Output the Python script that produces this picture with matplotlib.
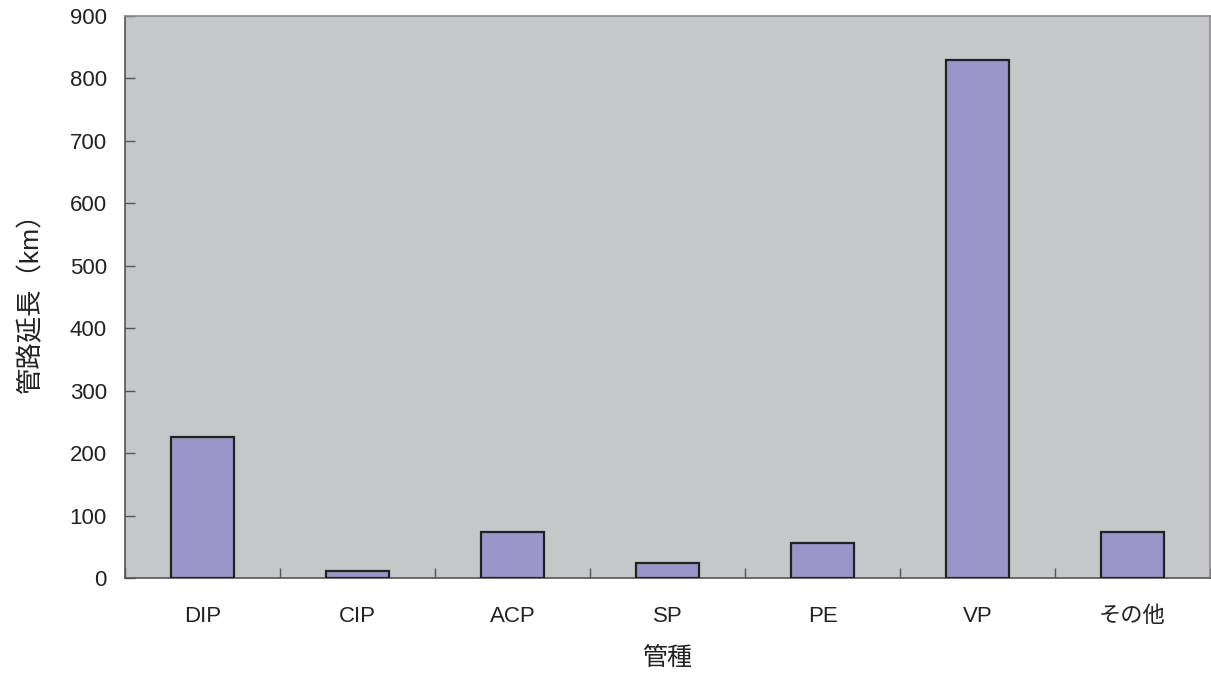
import matplotlib.pyplot as plt
import numpy as np

plt.rcParams['font.family'] = ['Liberation Sans', 'Noto Sans CJK JP']

# 管種別の管路延長 (km)
pipe_types = ['DIP', 'CIP', 'ACP', 'SP', 'PE', 'VP', 'その他']
lengths_km = [226, 12, 73, 24, 56, 830, 73]
y_ticks = [0, 100, 200, 300, 400, 500, 600, 700, 800, 900]

fig = plt.figure(figsize=(12.11, 6.73), dpi=100)
ax = fig.add_axes([125/1211, 1 - 578/673, 1085/1211, 562/673])
ax.set_facecolor('#c6c7ca')

x = np.arange(len(pipe_types))
ax.bar(x, lengths_km, width=0.41, color='#9b95c9', edgecolor='#222222', linewidth=1.6, zorder=3)

ax.set_xlim(-0.5, len(pipe_types) - 0.5)
ax.set_ylim(0, 900)
ax.set_yticks(y_ticks)
ax.set_xticks(x)
ax.set_xticklabels(pipe_types)
# 区切り目盛はカテゴリの境界に
ax.set_xticks(np.arange(len(pipe_types) + 1) - 0.5, minor=True)
ax.tick_params(axis='x', which='major', length=0, pad=20, labelsize=16, labelcolor='#222222')
ax.tick_params(axis='x', which='minor', direction='in', length=7, width=1, color='#555555')
ax.tick_params(axis='y', direction='in', length=7, width=1, color='#555555', pad=13,
               labelsize=16, labelcolor='#222222')

for side in ['left', 'bottom']:
    ax.spines[side].set_color('#555555')
    ax.spines[side].set_linewidth(1.2)
for side in ['top', 'right']:
    ax.spines[side].set_color('#8c8c90')
    ax.spines[side].set_linewidth(1.2)

ax.set_xlabel('管種', fontsize=18, labelpad=14, color='#222222')
ax.set_ylabel('管路延長（km）', fontsize=19, labelpad=19, color='#222222')

fig.savefig('out.png', dpi=100)
